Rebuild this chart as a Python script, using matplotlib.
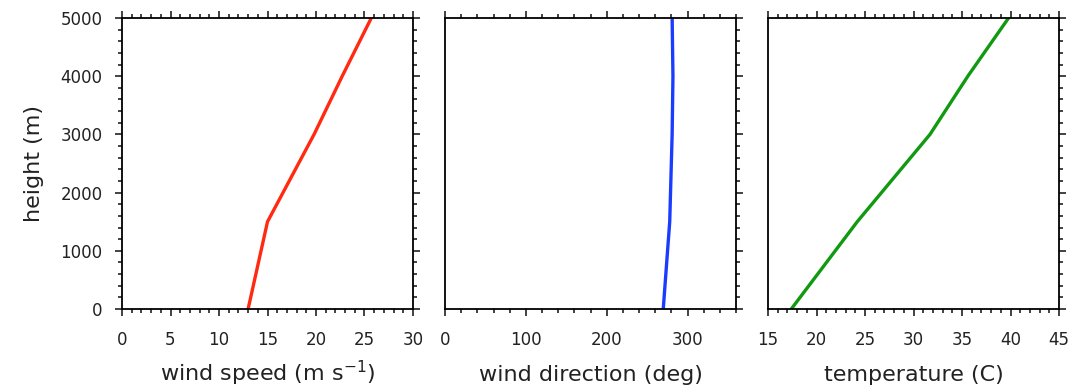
import matplotlib
matplotlib.use("Agg")
import matplotlib.pyplot as plt
from matplotlib.ticker import MultipleLocator

plt.rcParams['font.family'] = ['DejaVu Sans']
plt.rcParams['mathtext.fontset'] = 'dejavusans'

# profiles
height = [0, 1500, 3000, 4000, 5000]
wind_speed = [13.0, 15.0, 19.8, 22.7, 25.7]
wind_dir = [270, 278, 281, 282, 281]
temperature = [17.4, 24.2, 31.7, 35.6, 39.8]

panels = [
    (wind_speed, "#ff2a10", (0, 30), 5, 1, "wind speed (m s$^{\\mathregular{-1}}$)"),
    (wind_dir, "#1a3cff", (0, 360), 100, 20, "wind direction (deg)"),
    (temperature, "#119911", (15, 45), 5, 1, "temperature (C)"),
]

fig = plt.figure(figsize=(10.72, 3.88), dpi=100)
W, H = 1072, 388
lefts = [122, 445, 768]

for i, (vals, col, xlim, major, minor, label) in enumerate(panels):
    ax = fig.add_axes([lefts[i] / W, (H - 309) / H, 291 / W, 291 / H])
    ax.plot(vals, height, color=col, lw=2.4, solid_capstyle='butt')
    ax.set_xlim(*xlim)
    ax.set_ylim(0, 5000)
    ax.xaxis.set_major_locator(MultipleLocator(major))
    ax.xaxis.set_minor_locator(MultipleLocator(minor))
    ax.yaxis.set_major_locator(MultipleLocator(1000))
    ax.yaxis.set_minor_locator(MultipleLocator(200))
    for s in ax.spines.values():
        s.set_linewidth(1.3)
    first = i == 0
    ax.tick_params(which='both', direction='out', top=True, bottom=True,
                   left=first, right=True, labelleft=first, width=1.2,
                   labelsize=12, colors='#222222')
    ax.tick_params(axis='x', pad=11)
    ax.tick_params(axis='y', pad=9)
    ax.tick_params(which='major', length=5)
    ax.tick_params(which='minor', length=3)
    ax.set_xlabel(label, fontsize=16, color='#222222')
    # same baseline for all three labels, superscript or not
    ax.xaxis.label.set_va('baseline')
    ax.xaxis.set_label_coords(0.5, -0.247)
    if first:
        ax.set_ylabel("height (m)", fontsize=16, labelpad=12, color='#222222')

fig.savefig("out.png", dpi=100)
